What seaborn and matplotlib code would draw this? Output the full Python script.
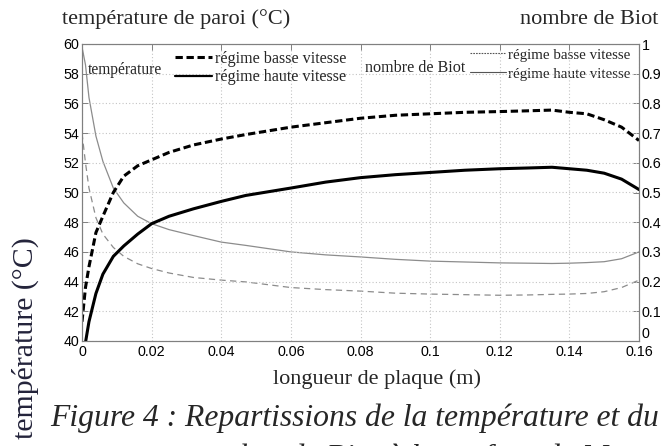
import matplotlib
matplotlib.use("Agg")
import matplotlib.pyplot as plt
import pandas as pd
import seaborn as sns
from matplotlib.lines import Line2D

# ---------------- data ----------------
x_m = [0, 0.001, 0.002, 0.004, 0.006, 0.009, 0.012, 0.016, 0.02, 0.025,
       0.032, 0.04, 0.047, 0.06, 0.07, 0.08, 0.09, 0.1, 0.11, 0.12,
       0.128, 0.135, 0.14, 0.145, 0.15, 0.155, 0.16]

temp_basse = [41.3, 43.6, 45.0, 47.3, 48.4, 50.0, 51.1, 51.8, 52.2, 52.7,
              53.2, 53.6, 53.9, 54.4, 54.7, 55.0, 55.2, 55.3, 55.4, 55.45,
              55.5, 55.55, 55.4, 55.3, 54.9, 54.4, 53.5]

temp_haute = [38.0, 39.9, 41.3, 43.2, 44.5, 45.7, 46.4, 47.2, 47.9, 48.4,
              48.9, 49.4, 49.8, 50.3, 50.7, 51.0, 51.2, 51.35, 51.5, 51.6,
              51.65, 51.7, 51.6, 51.5, 51.3, 50.9, 50.2]

biot_basse = [0.70, 0.60, 0.515, 0.415, 0.36, 0.315, 0.285, 0.26, 0.244, 0.229,
              0.214, 0.205, 0.199, 0.18, 0.173, 0.168, 0.161, 0.158, 0.156, 0.154,
              0.155, 0.157, 0.158, 0.16, 0.166, 0.18, 0.205]

biot_haute = [0.99, 0.93, 0.82, 0.69, 0.605, 0.515, 0.465, 0.42, 0.395, 0.375,
              0.355, 0.333, 0.322, 0.30, 0.29, 0.283, 0.275, 0.269, 0.266, 0.263,
              0.262, 0.261, 0.262, 0.264, 0.267, 0.277, 0.30]

x_ticks = [0, 0.02, 0.04, 0.06, 0.08, 0.1, 0.12, 0.14, 0.16]
x_tick_labels = ["0", "0.02", "0.04", "0.06", "0.08", "0.1", "0.12", "0.14", "0.16"]
temp_ticks = [40, 42, 44, 46, 48, 50, 52, 54, 56, 58, 60]
biot_ticks = [0, 0.1, 0.2, 0.3, 0.4, 0.5, 0.6, 0.7, 0.8, 0.9, 1.0]
biot_tick_labels = ["0", "0.1", "0.2", "0.3", "0.4", "0.5", "0.6", "0.7", "0.8", "0.9", "1"]

series_labels = ["régime basse vitesse", "régime haute vitesse"]

# ---------------- style ----------------
sns.set_style("white")
plt.rcParams["font.family"] = ["Liberation Sans", "DejaVu Sans"]
SERIF = ["Liberation Serif", "DejaVu Serif"]

W, H = 670, 446
fig = plt.figure(figsize=(W / 100, H / 100), dpi=100)


def fx(px):
    return px / W


def fy(py):
    return 1 - py / H


ax_left, ax_right, ax_top, ax_bottom = 82, 639, 44, 341
ax = fig.add_axes([fx(ax_left), fy(ax_bottom), fx(ax_right) - fx(ax_left),
                   fy(ax_top) - fy(ax_bottom)])
ax2 = ax.twinx()

df = pd.DataFrame({"x": x_m, "temp_basse": temp_basse, "temp_haute": temp_haute,
                   "biot_basse": biot_basse, "biot_haute": biot_haute})

GRAY = "#8c8c8c"
thick_dash = (0, (2.4, 1.2))
thin_dash = (0, (5, 3.5))

sns.lineplot(data=df, x="x", y="biot_basse", ax=ax2, color=GRAY, lw=0.9,
             linestyle=thin_dash, legend=False, errorbar=None)
sns.lineplot(data=df, x="x", y="biot_haute", ax=ax2, color=GRAY, lw=0.9,
             legend=False, errorbar=None)
sns.lineplot(data=df, x="x", y="temp_basse", ax=ax, color="black", lw=2.2,
             linestyle=thick_dash, legend=False, errorbar=None)
sns.lineplot(data=df, x="x", y="temp_haute", ax=ax, color="black", lw=2.2,
             legend=False, errorbar=None)

ax.set_xlim(0, 0.16)
ax.set_ylim(40, 60)
ax2.set_ylim(0, 1)
ax.set_xticks(x_ticks)
ax.set_xticklabels(x_tick_labels)
ax.set_yticks(temp_ticks)
ax2.set_yticks(biot_ticks)
ax2.set_yticklabels(biot_tick_labels)
for a in (ax, ax2):
    a.set_xlabel("")
    a.set_ylabel("")
    for s in a.spines.values():
        s.set_color("#808080")
        s.set_linewidth(0.8)

ax.grid(True, linestyle=(0, (1, 2)), color="#c4c4c4", lw=0.8)
ax2.grid(False)
ax.tick_params(axis="both", direction="in", length=4, width=0.7, color="#808080",
               labelcolor="black", labelsize=10.3, pad=3, top=True, right=False)
ax.tick_params(axis="y", pad=2)
ax2.tick_params(axis="y", direction="in", length=4, width=0.7, color="#808080",
                labelcolor="black", labelsize=10.3, pad=2)
ax2.get_yticklabels()[0].set_verticalalignment("bottom")
ax.set_zorder(2)
ax.patch.set_visible(False)

# ---------------- legends ----------------
h_temp = [Line2D([], [], color="black", lw=2.2, linestyle=thick_dash),
          Line2D([], [], color="black", lw=1.6)]
leg1 = ax.legend(h_temp, series_labels, loc="upper left",
                 bbox_to_anchor=((175 - ax_left) / (ax_right - ax_left),
                                 (ax_bottom - 51) / (ax_bottom - ax_top)),
                 frameon=False, borderpad=0, borderaxespad=0, handlelength=2.3,
                 handletextpad=0.2, labelspacing=0.15,
                 prop={"family": SERIF, "size": 11.6})

h_biot = [Line2D([], [], color="#555555", lw=0.8, linestyle=(0, (1.5, 1))),
          Line2D([], [], color="#555555", lw=0.8)]
leg2 = ax2.legend(h_biot, series_labels, loc="upper left",
                  bbox_to_anchor=((470 - ax_left) / (ax_right - ax_left),
                                  (ax_bottom - 48) / (ax_bottom - ax_top)),
                  frameon=False, borderpad=0, borderaxespad=0, handlelength=2.4,
                  handletextpad=0.12, labelspacing=0.38,
                  prop={"family": SERIF, "size": 10.8})

ax.text((88 - ax_left) / (ax_right - ax_left), (ax_bottom - 70) / (ax_bottom - ax_top),
        "température", transform=ax.transAxes, ha="left", va="center",
        family=SERIF, fontsize=11.2)
ax.text((365 - ax_left) / (ax_right - ax_left), (ax_bottom - 68) / (ax_bottom - ax_top),
        "nombre de Biot", transform=ax.transAxes, ha="left", va="center",
        family=SERIF, fontsize=11.6)

# ---------------- outer texts ----------------
fig.text(fx(62), fy(19), "température de paroi (°C)", ha="left", va="center",
         family=SERIF, fontsize=16)
fig.text(fx(658), fy(20), "nombre de Biot", ha="right", va="center",
         family=SERIF, fontsize=16)
fig.text(fx(377), fy(379), "longueur de plaque (m)", ha="center", va="center",
         family=SERIF, fontsize=16)
fig.text(fx(25), fy(338), "température (°C)", ha="center", va="center",
         rotation=90, family=SERIF, fontsize=21.5, color="#23233a")
fig.text(fx(50), fy(418), "Figure 4 : Repartissions de la température et du",
         ha="left", va="center", family=SERIF, fontsize=22.8, style="italic")
fig.text(fx(185), fy(458), "nombre de Biot à la surface de M",
         ha="left", va="center", family=SERIF, fontsize=22.8, style="italic")

fig.savefig("out.png", dpi=100)
